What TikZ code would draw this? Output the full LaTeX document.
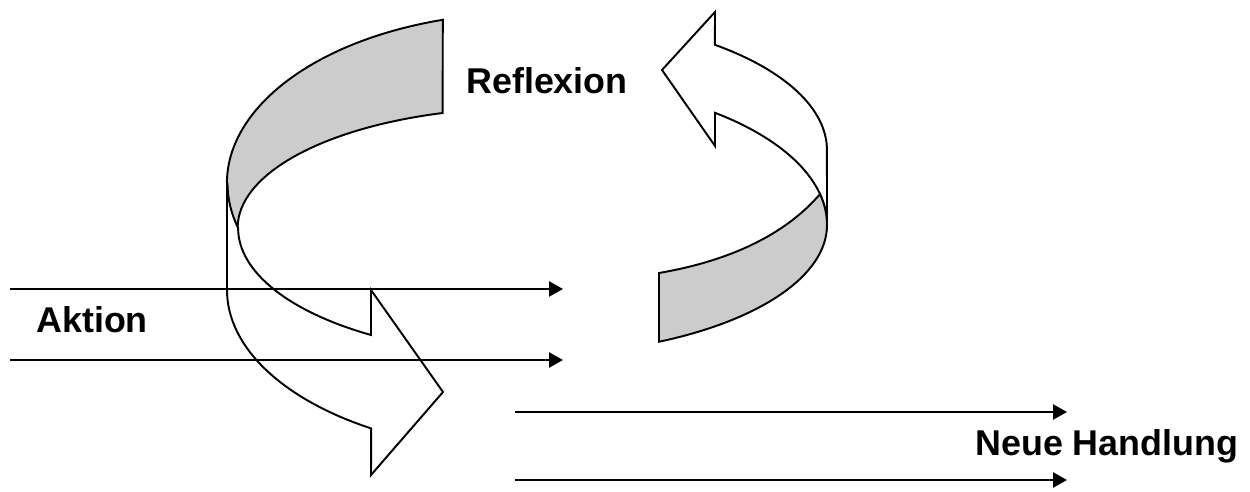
\documentclass[tikz,border=0pt]{standalone}
\usepackage{fontspec}
\setmainfont{Liberation Sans}
\usetikzlibrary{arrows.meta}
\definecolor{bandgray}{HTML}{CCCCCC}
\begin{document}
\begin{tikzpicture}[x=0.02cm,y=0.02cm,
  shapeline/.style={draw=black,line width=1.1pt,line join=miter},
  band/.style={shapeline,fill=bandgray},
  front/.style={shapeline,fill=white},
  flow/.style={draw=black,line width=1.3pt,-{Triangle[length=7.9pt,width=8.5pt]}},
  lbl/.style={font=\fontsize{20.4pt}{24pt}\selectfont\bfseries,inner sep=0pt,anchor=base west}]
\useasboundingbox (0,0) rectangle (1250,491);
% left curved arrow: gray back band
\path[band] (442.8,471.2)
  arc[start angle=106.3,end angle=195.3,x radius=300,y radius=170]
  arc[start angle=180,end angle=106.9,x radius=289,y radius=120] -- cycle;
% left curved arrow: white front with head
\path[front] (227,308) -- (227,201)
  arc[start angle=180,end angle=238.7,x radius=300,y radius=162]
  -- (371,16) -- (443,99) -- (371,201) -- (371,156)
  arc[start angle=237.3,end angle=180,x radius=289,y radius=127]
  arc[start angle=195.3,end angle=180,x radius=300,y radius=170] -- cycle;
% right curved arrow: white front with head
\path[front] (715,479) -- (714.9,446.2)
  arc[start angle=51.2,end angle=0,x radius=300,y radius=135]
  -- (827,266)
  arc[start angle=0,end angle=51.2,x radius=300,y radius=144]
  -- (715,345) -- (662,421) -- cycle;
% right curved arrow: gray band
\path[band] (659,218) .. controls (740,232) and (790,262) .. (820.0,296.9)
  arc[start angle=12.4,end angle=0,x radius=300,y radius=144]
  arc[start angle=0,end angle=-63.9,x radius=300,y radius=130] -- cycle;
% flow arrows
\coordinate (a1s) at (10,202);
\coordinate (a1e) at (563,202);
\coordinate (a2s) at (10,131);
\coordinate (a2e) at (563,131);
\coordinate (n1s) at (515,79);
\coordinate (n1e) at (1067,79);
\coordinate (n2s) at (515,11);
\coordinate (n2e) at (1067,11);
\draw[flow] (a1s) -- (a1e);
\draw[flow] (a2s) -- (a2e);
\draw[flow] (n1s) -- (n1e);
\draw[flow] (n2s) -- (n2e);
% labels
\node[lbl] (refl) at (466,398) {Reflexion};
\node[lbl] (akt) at (36,159) {Aktion};
\node[lbl] (neu) at (975,36) {Neue Handlung};
\end{tikzpicture}
\end{document}
